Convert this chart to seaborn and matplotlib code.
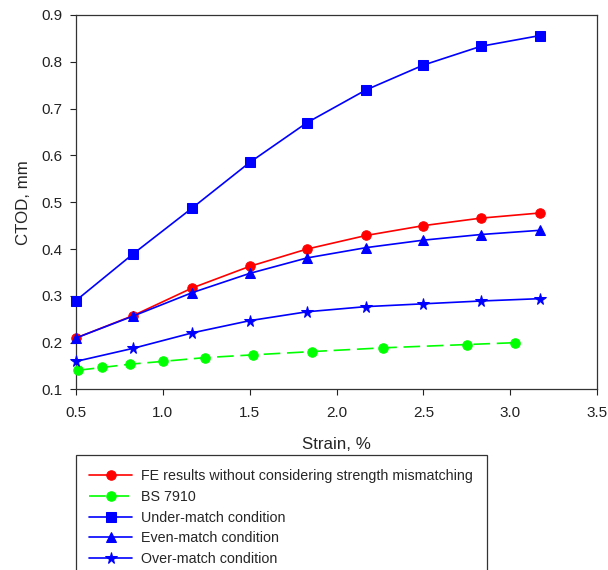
import matplotlib
matplotlib.use("Agg")
import matplotlib.pyplot as plt
from matplotlib.patches import Rectangle
import seaborn as sns
import pandas as pd

sns.set_style("ticks")
plt.rcParams['font.family'] = ['Liberation Sans', 'DejaVu Sans']

strain = [0.5, 0.83, 1.17, 1.5, 1.83, 2.17, 2.5, 2.83, 3.17]
fe_results = [0.210, 0.258, 0.317, 0.363, 0.400, 0.429, 0.450, 0.466, 0.477]
under_match = [0.290, 0.390, 0.488, 0.585, 0.670, 0.740, 0.793, 0.833, 0.856]
even_match = [0.210, 0.257, 0.307, 0.348, 0.381, 0.403, 0.419, 0.431, 0.440]
over_match = [0.160, 0.188, 0.221, 0.247, 0.266, 0.277, 0.283, 0.289, 0.294]

bs_strain = [0.51, 0.65, 0.81, 1.00, 1.24, 1.52, 1.86, 2.27, 2.75, 3.03]
bs_7910 = [0.141, 0.147, 0.154, 0.160, 0.168, 0.174, 0.181, 0.189, 0.196, 0.200]

xticks = [0.5, 1.0, 1.5, 2.0, 2.5, 3.0, 3.5]
yticks = [0.1, 0.2, 0.3, 0.4, 0.5, 0.6, 0.7, 0.8, 0.9]

fig = plt.figure(figsize=(6.08, 5.70), dpi=100)
ax = fig.add_axes([0.125, 0.3167, 0.857, 0.657])

series = [
    ("FE results without considering strength mismatching", strain, fe_results, "#ff0000", "o", 6.8, "-"),
    ("BS 7910", bs_strain, bs_7910, "#00ff00", "o", 6.8, (0, (10, 4))),
    ("Under-match condition", strain, under_match, "#0000ff", "s", 6.8, "-"),
    ("Even-match condition", strain, even_match, "#0000ff", "^", 7.5, "-"),
    ("Over-match condition", strain, over_match, "#0000ff", "*", 8.5, "-"),
]

handles = []
for label, xs, ys, color, mk, ms, ls in series:
    df = pd.DataFrame({"x": xs, "y": ys})
    sns.lineplot(data=df, x="x", y="y", ax=ax, color=color, marker=mk,
                 markersize=ms, markeredgecolor=color, linewidth=1.2,
                 linestyle=ls, label=label, legend=False, sort=False,
                 clip_on=False, zorder=3)
    handles.append(ax.lines[-1])

ax.set_xlim(0.5, 3.5)
ax.set_ylim(0.1, 0.9)
ax.set_xticks(xticks)
ax.set_yticks(yticks)
ax.set_xticklabels([f"{t:.1f}" for t in xticks])
ax.set_yticklabels([f"{t:.1f}" for t in yticks])
ax.tick_params(direction="out", length=4, width=0.8, labelsize=11, colors="#222222")
ax.tick_params(axis="x", pad=8)
ax.tick_params(axis="y", pad=5.5)
for s in ax.spines.values():
    s.set_linewidth(0.9)
    s.set_color("#333333")
ax.set_xlabel("Strain, %", fontsize=12.2, labelpad=12)
ax.set_ylabel("CTOD, mm", fontsize=12.2, labelpad=8)

# legend frame extending past the figure bottom
fig.patches.append(Rectangle((76 / 608, -0.05), (487 - 76) / 608, (570 - 455) / 570 + 0.05,
                             transform=fig.transFigure, fill=False,
                             edgecolor="#333333", linewidth=0.9))
fig.legend(handles=handles, labels=[s[0] for s in series],
           loc="upper left", bbox_to_anchor=(82 / 608, (570 - 462) / 570),
           frameon=False, fontsize=10.3, handlelength=3.0, handletextpad=0.65,
           labelspacing=0.47, borderpad=0.0)

fig.savefig("out.png", dpi=100)
